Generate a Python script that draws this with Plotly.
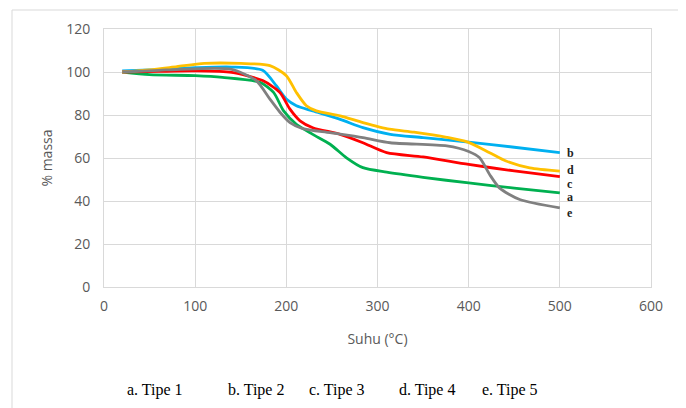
import plotly.graph_objects as go

# Data
suhu_a = [20, 50, 100, 130, 171, 186, 197, 211, 229, 248, 266, 284, 310, 350, 400, 450, 500]
massa_a = [100, 98.8, 98.3, 97.5, 95.2, 90.5, 81.9, 75.7, 71, 66.4, 60.1, 55.5, 53.4, 51, 48.4, 46, 43.8]

suhu_b = [20, 50, 100, 140, 174, 189, 200, 211, 229, 259, 284, 314, 350, 400, 450, 500]
massa_b = [100.5, 101, 102, 102.3, 100.8, 93.6, 87.4, 84.3, 81.9, 78, 74.1, 71, 69.5, 67.4, 65, 62.5]

suhu_c = [20, 60, 100, 140, 174, 193, 204, 215, 229, 259, 284, 310, 350, 400, 450, 500]
massa_c = [100, 100.3, 100.5, 99.8, 96, 90.5, 82.7, 77.3, 74.1, 71, 67.1, 62.5, 60.5, 57, 54, 51.3]

suhu_d = [20, 50, 80, 110, 150, 182, 200, 211, 222, 233, 259, 284, 313, 340, 376, 399, 423, 441, 467, 500]
massa_d = [100, 101, 102.5, 104, 104, 103, 98.3, 90.5, 84.3, 81.9, 79.6, 76.5, 73.4, 72, 69.6, 67.4, 62.5, 58.6, 55.4, 53.9]

suhu_e = [20, 60, 100, 140, 167, 182, 193, 204, 218, 248, 284, 314, 376, 400, 412, 423, 434, 456, 500]
massa_e = [100, 100.8, 101.5, 101.2, 96, 87.4, 81.3, 76.5, 73.7, 71.8, 69.5, 67.1, 65.6, 63, 60.1, 52.3, 46, 40.7, 36.8]

end_labels = ["a", "b", "c", "d", "e"]
legend_texts = ["a. Tipe 1", "b. Tipe 2", "c. Tipe 3", "d. Tipe 4", "e. Tipe 5"]
x_ticks = [0, 100, 200, 300, 400, 500, 600]
y_ticks = [0, 20, 40, 60, 80, 100, 120]

series = [
    (suhu_a, massa_a, "#00B050", end_labels[0], -4),
    (suhu_b, massa_b, "#00B0F0", end_labels[1], 0),
    (suhu_c, massa_c, "#FF0000", end_labels[2], -7),
    (suhu_d, massa_d, "#FFC000", end_labels[3], 1),
    (suhu_e, massa_e, "#808080", end_labels[4], -5),
]

# page body has an 8px margin, so the figure is sized to fit the window
W, H = 678, 400
L, T, PW, PH = 96, 21, 547, 258

fig = go.Figure()
annotations = []
for xs, ys, col, lab, shift in series:
    fig.add_trace(go.Scatter(x=xs, y=ys, mode="lines",
                             line=dict(color=col, width=2.8, shape="spline", smoothing=0.7),
                             showlegend=False, hoverinfo="skip"))
    annotations.append(dict(x=xs[-1], y=ys[-1], xref="x", yref="y", text="<b>" + lab + "</b>",
                            showarrow=False, xanchor="left", xshift=5, yshift=shift,
                            font=dict(family="Liberation Serif", size=12, color="#222222")))

leg_x = [155, 256, 337, 427, 510]
for t, px in zip(legend_texts, leg_x):
    annotations.append(dict(x=(px - 104) / PW, y=(287 - 390) / PH, xref="paper", yref="paper",
                            text=t, showarrow=False, xanchor="center", yanchor="middle",
                            font=dict(family="Liberation Serif", size=16, color="#000000")))

grid = "#D9D9D9"
fig.update_layout(
    width=W, height=H,
    margin=dict(l=L, r=W - L - PW, t=T, b=H - T - PH),
    paper_bgcolor="white", plot_bgcolor="white",
    font=dict(family="Open Sans", size=14, color="#595959"),
    annotations=annotations,
    shapes=[dict(type="rect", xref="paper", yref="paper",
                 x0=(12 - 104) / PW, x1=(680 - 104) / PW,
                 y0=(287 - 430) / PH, y1=(287 - 10) / PH,
                 line=dict(color=grid, width=1), layer="below")],
    xaxis=dict(range=[0, 600], tickvals=x_ticks, showgrid=True, gridcolor=grid, gridwidth=1,
               showline=True, linecolor=grid, mirror=True, zeroline=False, ticks="",
               ticklabelstandoff=6,
               title=dict(text="Suhu (°C)", font=dict(size=14, color="#595959"), standoff=20),
               tickfont=dict(size=14, color="#595959")),
    yaxis=dict(range=[0, 120], tickvals=y_ticks, showgrid=True, gridcolor=grid, gridwidth=1,
               showline=True, linecolor=grid, mirror=True, zeroline=False, ticks="",
               ticklabelstandoff=10,
               title=dict(text="% massa", font=dict(size=14, color="#595959"), standoff=10),
               tickfont=dict(size=14, color="#595959")),
)

fig.write_html("out.html")
